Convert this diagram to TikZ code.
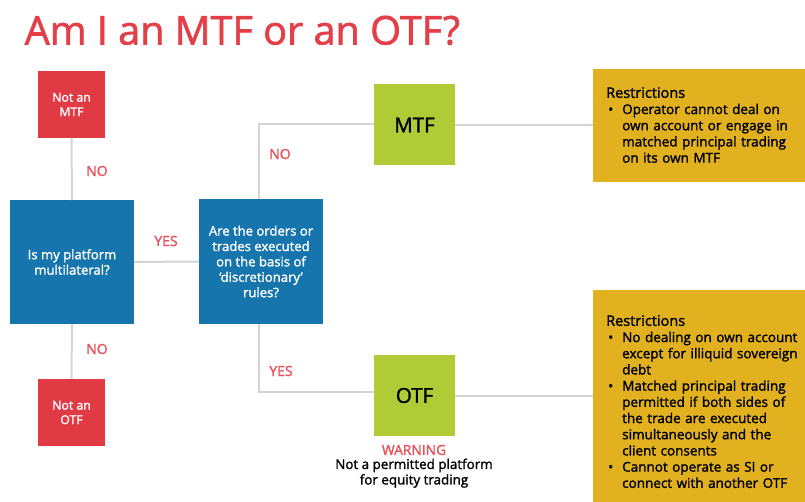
\documentclass[tikz,border=0pt]{standalone}
\usepackage{fontspec}
\setmainfont{Open Sans}[FakeBold=1.6]
\definecolor{tred}{HTML}{E43F49}
\definecolor{bred}{HTML}{E03A44}
\definecolor{lred}{HTML}{E8505A}
\definecolor{bblue}{HTML}{1675AC}
\definecolor{bgreen}{HTML}{B1CB36}
\definecolor{bgold}{HTML}{E2B120}
\definecolor{lgray}{HTML}{D4D4D4}
\begin{document}
\begin{tikzpicture}[x=1pt,y=-1pt,
  box/.style={inner sep=0pt, outer sep=0pt, align=center, draw=none},
  redbox/.style={box, fill=bred, text=white, minimum width=67pt, minimum height=67pt, font=\fontsize{12.3}{14.5}\selectfont},
  bluebox/.style={box, fill=bblue, text=white, minimum width=124pt, minimum height=124pt, font=\fontsize{13.1}{15.4}\selectfont},
  greenbox/.style={box, fill=bgreen, text=black, minimum width=81pt, minimum height=81pt, font=\fontsize{20.5}{24}\selectfont},
  goldbox/.style={box, fill=bgold, text=black, anchor=north west},
  restext/.style={anchor=north west, inner sep=0pt, text width=199pt, align=left, font=\fontsize{13.5}{16.2}\selectfont},
  lbl/.style={text=lred, font=\fontsize{14}{16}\selectfont, inner sep=0pt},
  conn/.style={draw=lgray, line width=2pt}
]
\useasboundingbox (0,0) rectangle (805,502);
\node[anchor=base west, text=tred, inner sep=0pt, font=\fontsize{39.6}{44}\selectfont] (title) at (24.5,44.5) {Am I an MTF or an OTF?};

\node[redbox] (nmtf) at (71.5,104.5) {Not an\\MTF};
\node[bluebox] (plat) at (72,262) {Is my platform\\multilateral?};
\node[redbox] (notf) at (71.5,412.5) {Not an\\OTF};
\node[bluebox] (disc) at (261,261.5) {Are the orders or\\trades executed\\on the basis of\\‘discretionary’\\rules?};
\node[greenbox] (mtf) at (414.5,125) {MTF};
\node[greenbox] (otf) at (414.5,395.5) {OTF};

\node[goldbox, minimum width=212pt, minimum height=113pt] (r1) at (593,69) {};
\node[restext] (r1t) at (606,87)
 {{\fontsize{14.5}{16.2}\selectfont Restrictions}\par
  \hangindent=16pt\hangafter=1\makebox[16pt][l]{\hspace{2pt}•}Operator cannot deal on\newline own account or engage in\newline matched principal trading\newline on its own MTF\par};

\node[goldbox, minimum width=212pt, minimum height=213pt] (r2) at (593,290) {};
\node[restext] (r2t) at (606,315)
 {{\fontsize{14.5}{16.2}\selectfont Restrictions}\par
  \hangindent=16pt\hangafter=1\makebox[16pt][l]{\hspace{2pt}•}No dealing on own account\newline except for illiquid sovereign\newline debt\par
  \hangindent=16pt\hangafter=1\makebox[16pt][l]{\hspace{2pt}•}Matched principal trading\newline permitted if both sides of\newline the trade are executed\newline simultaneously and the\newline client consents\par
  \hangindent=16pt\hangafter=1\makebox[16pt][l]{\hspace{2pt}•}Cannot operate as SI or\newline connect with another OTF\par};

\coordinate (c1) at (259,124);
\coordinate (c2) at (259,392);
\draw[conn] (nmtf.south) -- (plat.north);
\draw[conn] (plat.south) -- (notf.north);
\draw[conn] (plat.east) -- (disc.west);
\draw[conn] (disc.north -| c1) -- (c1) -- (c1 -| mtf.west);
\draw[conn] (disc.south -| c2) -- (c2) -- (c2 -| otf.west);
\draw[conn] (mtf.east) -- (r1.west |- mtf.east);
\draw[conn] (otf.east) -- (r2.west |- otf.east);

\node[lbl] (no1) at (97,171) {NO};
\node[lbl] (no2) at (97,349) {NO};
\node[lbl] (yes1) at (166,241) {YES};
\node[lbl] (no3) at (280,154) {NO};
\node[lbl] (yes2) at (281,371) {YES};

\node[text=lred, inner sep=0pt, font=\fontsize{13.8}{15}\selectfont] (warn) at (414,450) {WARNING};
\node[inner sep=0pt, align=center, font=\fontsize{13.4}{15.5}\selectfont, anchor=north] (warnt) at (414,458.5) {Not a permitted platform\\for equity trading};
\end{tikzpicture}
\end{document}
